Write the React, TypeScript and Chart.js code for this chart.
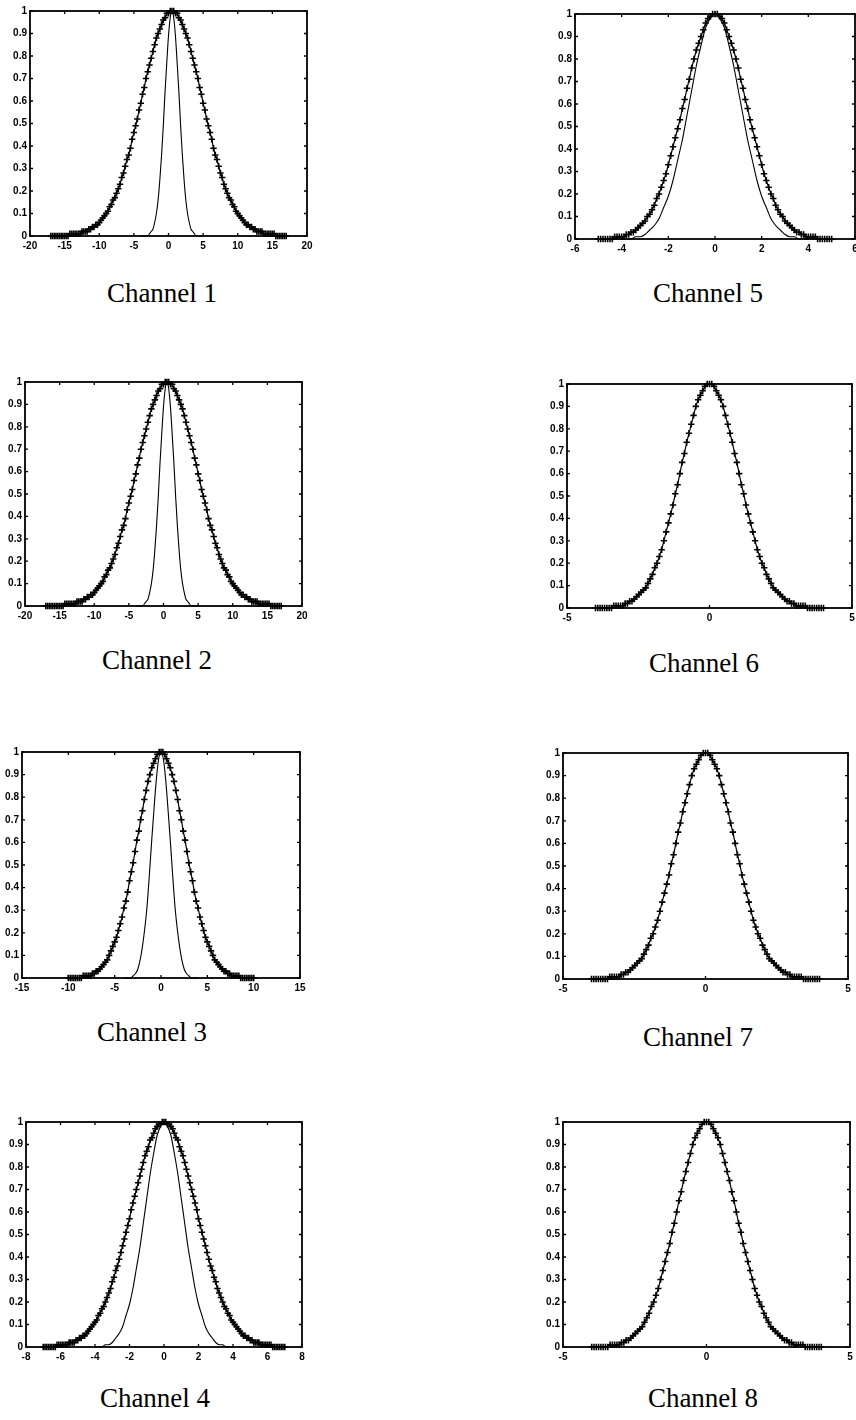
import React, { useEffect, useRef } from "react";
import { Chart, registerables } from "chart.js";

Chart.register(...registerables);

// ---------- tick labels ----------
const Y_TICKS = [0, 0.1, 0.2, 0.3, 0.4, 0.5, 0.6, 0.7, 0.8, 0.9, 1];
const Y_TICK_LABELS = ["0", "0.1", "0.2", "0.3", "0.4", "0.5", "0.6", "0.7", "0.8", "0.9", "1"];
const X_TICKS_CH12 = [-20, -15, -10, -5, 0, 5, 10, 15, 20];
const X_TICKS_CH3 = [-15, -10, -5, 0, 5, 10, 15];
const X_TICKS_CH4 = [-8, -6, -4, -2, 0, 2, 4, 6, 8];
const X_TICKS_CH5 = [-6, -4, -2, 0, 2, 4, 6];
const X_TICKS_CH678 = [-5, 0, 5];
const CHANNEL_TITLES = ["Channel 1", "Channel 2", "Channel 3", "Channel 4", "Channel 5", "Channel 6", "Channel 7", "Channel 8"];

// ---------- channels 1 & 2 ----------
const X_CH12 = [-17,-16.75,-16.5,-16.25,-16,-15.75,-15.5,-15.25,-15,-14.75,-14.5,-14.25,-14,-13.75,-13.5,-13.25,-13,-12.75,-12.5,-12.25,-12,-11.75,-11.5,-11.25,-11,-10.75,-10.5,-10.25,-10,-9.75,-9.5,-9.25,-9,-8.75,-8.5,-8.25,-8,-7.75,-7.5,-7.25,-7,-6.75,-6.5,-6.25,-6,-5.75,-5.5,-5.25,-5,-4.75,-4.5,-4.25,-4,-3.75,-3.5,-3.25,-3,-2.75,-2.5,-2.25,-2,-1.75,-1.5,-1.25,-1,-.75,-.5,-.25,0,.25,.5,.75,1,1.25,1.5,1.75,2,2.25,2.5,2.75,3,3.25,3.5,3.75,4,4.25,4.5,4.75,5,5.25,5.5,5.75,6,6.25,6.5,6.75,7,7.25,7.5,7.75,8,8.25,8.5,8.75,9,9.25,9.5,9.75,10,10.25,10.5,10.75,11,11.25,11.5,11.75,12,12.25,12.5,12.75,13,13.25,13.5,13.75,14,14.25,14.5,14.75,15,15.25,15.5,15.75,16,16.25,16.5,16.75,17];
const Y_CH12_WIDE = [0,0,0,0,0,0,0,0,0,0,0,.01,.01,.01,.01,.01,.01,.01,.02,.02,.02,.02,.03,.03,.04,.04,.05,.05,.06,.07,.08,.09,.10,.11,.13,.14,.16,.17,.19,.21,.23,.26,.28,.31,.34,.36,.39,.43,.46,.49,.52,.56,.59,.63,.66,.70,.73,.76,.79,.82,.85,.88,.90,.92,.94,.96,.97,.99,.99,1,
1,
1,.99,.99,.97,.96,.94,.92,.90,.88,.85,.82,.79,.76,.73,.70,.66,.63,.59,.56,.52,.49,.46,.43,.39,.36,.34,.31,.28,.26,.23,.21,.19,.17,.16,.14,.13,.11,.10,.09,.08,.07,.06,.05,.05,.04,.04,.03,.03,.02,.02,.02,.02,.01,.01,.01,.01,.01,.01,.01,0,0,0,0,0,0,0];
const X_CH12_NARROW = [-4,-3.75,-3.5,-3.25,-3,-2.75,-2.5,-2.25,-2,-1.75,-1.5,-1.25,-1,-.75,-.5,-.25,0,.25,.5,.75,1,1.25,1.5,1.75,2,2.25,2.5,2.75,3,3.25,3.5,3.75,4,4.25,4.5,4.75,5];
const Y_CH12_NARROW = [0,0,0,0,0,.01,.02,.03,.06,.10,.16,.25,.36,.49,.64,.77,.89,.97,1,.97,.89,.77,.64,.49,.36,.25,.16,.10,.06,.03,.02,.01,0,0,0,0,0];

// ---------- channel 3 ----------
const X_CH3 = [-10,-9.8,-9.6,-9.4,-9.2,-9,-8.8,-8.6,-8.4,-8.2,-8,-7.8,-7.6,-7.4,-7.2,-7,-6.8,-6.6,-6.4,-6.2,-6,-5.8,-5.6,-5.4,-5.2,-5,-4.8,-4.6,-4.4,-4.2,-4,-3.8,-3.6,-3.4,-3.2,-3,-2.8,-2.6,-2.4,-2.2,-2,-1.8,-1.6,-1.4,-1.2,-1,-.8,-.6,-.4,-.2,0,.2,.4,.6,.8,1,1.2,1.4,1.6,1.8,2,2.2,2.4,2.6,2.8,3,3.2,3.4,3.6,3.8,4,4.2,4.4,4.6,4.8,5,5.2,5.4,5.6,5.8,6,6.2,6.4,6.6,6.8,7,7.2,7.4,7.6,7.8,8,8.2,8.4,8.6,8.8,9,9.2,9.4,9.6,9.8,10];
const Y_CH3_WIDE = [0,0,0,0,0,0,0,0,.01,.01,.01,.01,.01,.02,.02,.03,.03,.04,.05,.06,.07,.08,.10,.12,.14,.16,.18,.21,.24,.27,.31,.34,.38,.43,.47,.51,.56,.61,.65,.70,.74,.79,.83,.87,.90,.93,.95,.97,.99,1,
1,
1,.99,.97,.95,.93,.90,.87,.83,.79,.74,.70,.65,.61,.56,.51,.47,.43,.38,.34,.31,.27,.24,.21,.18,.16,.14,.12,.10,.08,.07,.06,.05,.04,.03,.03,.02,.02,.01,.01,.01,.01,.01,0,0,0,0,0,0,0,0];
const X_CH3_NARROW = [-4,-3.75,-3.5,-3.25,-3,-2.75,-2.5,-2.25,-2,-1.75,-1.5,-1.25,-1,-.75,-.5,-.25,0,.25,.5,.75,1,1.25,1.5,1.75,2,2.25,2.5,2.75,3,3.25,3.5,3.75,4];
const Y_CH3_NARROW = [0,0,0,0,.01,.02,.04,.08,.14,.22,.32,.46,.61,.75,.88,.97,1,.97,.88,.75,.61,.46,.32,.22,.14,.08,.04,.02,.01,0,0,0,0];

// ---------- channel 4 ----------
const X_CH4 = [-7,-6.9,-6.8,-6.7,-6.6,-6.5,-6.4,-6.3,-6.2,-6.1,-6,-5.9,-5.8,-5.7,-5.6,-5.5,-5.4,-5.3,-5.2,-5.1,-5,-4.9,-4.8,-4.7,-4.6,-4.5,-4.4,-4.3,-4.2,-4.1,-4,-3.9,-3.8,-3.7,-3.6,-3.5,-3.4,-3.3,-3.2,-3.1,-3,-2.9,-2.8,-2.7,-2.6,-2.5,-2.4,-2.3,-2.2,-2.1,-2,-1.9,-1.8,-1.7,-1.6,-1.5,-1.4,-1.3,-1.2,-1.1,-1,-.9,-.8,-.7,-.6,-.5,-.4,-.3,-.2,-.1,0,.1,.2,.3,.4,.5,.6,.7,.8,.9,1,1.1,1.2,1.3,1.4,1.5,1.6,1.7,1.8,1.9,2,2.1,2.2,2.3,2.4,2.5,2.6,2.7,2.8,2.9,3,3.1,3.2,3.3,3.4,3.5,3.6,3.7,3.8,3.9,4,4.1,4.2,4.3,4.4,4.5,4.6,4.7,4.8,4.9,5,5.1,5.2,5.3,5.4,5.5,5.6,5.7,5.8,5.9,6,6.1,6.2,6.3,6.4,6.5,6.6,6.7,6.8,6.9,7];
const Y_CH4_WIDE = [0,0,0,0,0,0,0,0,.01,.01,.01,.01,.01,.01,.01,.02,.02,.02,.02,.03,.03,.04,.04,.05,.05,.06,.07,.08,.09,.10,.11,.12,.14,.15,.17,.18,.20,.22,.24,.26,.29,.31,.34,.36,.39,.42,.45,.48,.51,.54,.57,.61,.64,.67,.70,.73,.76,.79,.82,.85,.87,.89,.92,.93,.95,.97,.98,.99,.99,1,
1,
1,.99,.99,.98,.97,.95,.93,.92,.89,.87,.85,.82,.79,.76,.73,.70,.67,.64,.61,.57,.54,.51,.48,.45,.42,.39,.36,.34,.31,.29,.26,.24,.22,.20,.18,.17,.15,.14,.12,.11,.10,.09,.08,.07,.06,.05,.05,.04,.04,.03,.03,.02,.02,.02,.02,.01,.01,.01,.01,.01,.01,.01,0,0,0,0,0,0,0,0];
const X_CH45_NARROW = [-4,-3.8,-3.6,-3.4,-3.2,-3,-2.8,-2.6,-2.4,-2.2,-2,-1.8,-1.6,-1.4,-1.2,-1,-.8,-.6,-.4,-.2,0,.2,.4,.6,.8,1,1.2,1.4,1.6,1.8,2,2.2,2.4,2.6,2.8,3,3.2,3.4,3.6,3.8,4];
const Y_CH45_NARROW = [0,0,0,.01,.01,.02,.04,.06,.09,.14,.19,.26,.35,.44,.55,.66,.77,.86,.94,.98,1,.98,.94,.86,.77,.66,.55,.44,.35,.26,.19,.14,.09,.06,.04,.02,.01,.01,0,0,0];

// ---------- channel 5 ----------
const X_CH5 = [-5,-4.9,-4.8,-4.7,-4.6,-4.5,-4.4,-4.3,-4.2,-4.1,-4,-3.9,-3.8,-3.7,-3.6,-3.5,-3.4,-3.3,-3.2,-3.1,-3,-2.9,-2.8,-2.7,-2.6,-2.5,-2.4,-2.3,-2.2,-2.1,-2,-1.9,-1.8,-1.7,-1.6,-1.5,-1.4,-1.3,-1.2,-1.1,-1,-.9,-.8,-.7,-.6,-.5,-.4,-.3,-.2,-.1,0,.1,.2,.3,.4,.5,.6,.7,.8,.9,1,1.1,1.2,1.3,1.4,1.5,1.6,1.7,1.8,1.9,2,2.1,2.2,2.3,2.4,2.5,2.6,2.7,2.8,2.9,3,3.1,3.2,3.3,3.4,3.5,3.6,3.7,3.8,3.9,4,4.1,4.2,4.3,4.4,4.5,4.6,4.7,4.8,4.9,5];
const Y_CH5_WIDE = [0,0,0,0,0,0,0,.01,.01,.01,.01,.01,.02,.02,.03,.03,.04,.05,.06,.07,.08,.10,.11,.13,.15,.18,.20,.23,.26,.29,.33,.37,.41,.45,.49,.53,.58,.62,.67,.71,.76,.80,.84,.87,.90,.93,.96,.98,.99,1,
1,
1,.99,.98,.96,.93,.90,.87,.84,.80,.76,.71,.67,.62,.58,.53,.49,.45,.41,.37,.33,.29,.26,.23,.20,.18,.15,.13,.11,.10,.08,.07,.06,.05,.04,.03,.03,.02,.02,.01,.01,.01,.01,.01,0,0,0,0,0,0,0];

// ---------- channels 6, 7, 8 ----------
const X_CH678 = [-4,-3.92,-3.84,-3.76,-3.68,-3.6,-3.52,-3.44,-3.36,-3.28,-3.2,-3.12,-3.04,-2.96,-2.88,-2.8,-2.72,-2.64,-2.56,-2.48,-2.4,-2.32,-2.24,-2.16,-2.08,-2,-1.92,-1.84,-1.76,-1.68,-1.6,-1.52,-1.44,-1.36,-1.28,-1.2,-1.12,-1.04,-.96,-.88,-.8,-.72,-.64,-.56,-.48,-.4,-.32,-.24,-.16,-.08,0,.08,.16,.24,.32,.4,.48,.56,.64,.72,.8,.88,.96,1.04,1.12,1.2,1.28,1.36,1.44,1.52,1.6,1.68,1.76,1.84,1.92,2,2.08,2.16,2.24,2.32,2.4,2.48,2.56,2.64,2.72,2.8,2.88,2.96,3.04,3.12,3.2,3.28,3.36,3.44,3.52,3.6,3.68,3.76,3.84,3.92,4];
const Y_CH678_WIDE = [0,0,0,0,0,0,0,0,.01,.01,.01,.01,.01,.02,.02,.03,.03,.04,.05,.06,.07,.08,.09,.11,.13,.15,.18,.20,.23,.26,.30,.34,.38,.42,.46,.51,.55,.60,.65,.69,.74,.78,.82,.86,.90,.93,.95,.97,.99,1,
1,
1,.99,.97,.95,.93,.90,.86,.82,.78,.74,.69,.65,.60,.55,.51,.46,.42,.38,.34,.30,.26,.23,.20,.18,.15,.13,.11,.09,.08,.07,.06,.05,.04,.03,.03,.02,.02,.01,.01,.01,.01,.01,0,0,0,0,0,0,0,0];

// ---------- panel setup (which arrays go where) ----------
type Series = { x: number[]; y: number[] };
type PanelSpec = {
  xMin: number; xMax: number; xTicks: number[];
  wide: Series; narrow?: Series;
};
const PANEL_SPECS: PanelSpec[] = [
  { xMin: -20, xMax: 20, xTicks: X_TICKS_CH12, wide: { x: X_CH12, y: Y_CH12_WIDE }, narrow: { x: X_CH12_NARROW, y: Y_CH12_NARROW } },
  { xMin: -20, xMax: 20, xTicks: X_TICKS_CH12, wide: { x: X_CH12, y: Y_CH12_WIDE }, narrow: { x: X_CH12_NARROW, y: Y_CH12_NARROW } },
  { xMin: -15, xMax: 15, xTicks: X_TICKS_CH3, wide: { x: X_CH3, y: Y_CH3_WIDE }, narrow: { x: X_CH3_NARROW, y: Y_CH3_NARROW } },
  { xMin: -8, xMax: 8, xTicks: X_TICKS_CH4, wide: { x: X_CH4, y: Y_CH4_WIDE }, narrow: { x: X_CH45_NARROW, y: Y_CH45_NARROW } },
  { xMin: -6, xMax: 6, xTicks: X_TICKS_CH5, wide: { x: X_CH5, y: Y_CH5_WIDE }, narrow: { x: X_CH45_NARROW, y: Y_CH45_NARROW } },
  { xMin: -5, xMax: 5, xTicks: X_TICKS_CH678, wide: { x: X_CH678, y: Y_CH678_WIDE } },
  { xMin: -5, xMax: 5, xTicks: X_TICKS_CH678, wide: { x: X_CH678, y: Y_CH678_WIDE } },
  { xMin: -5, xMax: 5, xTicks: X_TICKS_CH678, wide: { x: X_CH678, y: Y_CH678_WIDE } },
];

// ---------- layout (plot-area boxes on the page) ----------
const LAYOUT = [
  { left: 30, right: 307, top: 11, bottom: 236, tx: 162, ty: 293 },
  { left: 25, right: 302, top: 382, bottom: 606, tx: 157, ty: 660 },
  { left: 22, right: 300, top: 752, bottom: 978, tx: 152, ty: 1032 },
  { left: 26, right: 302, top: 1122, bottom: 1347, tx: 155, ty: 1398 },
  { left: 575, right: 855, top: 14, bottom: 239, tx: 708, ty: 293 },
  { left: 567, right: 852, top: 384, bottom: 608, tx: 704, ty: 663 },
  { left: 563, right: 848, top: 753, bottom: 979, tx: 698, ty: 1037 },
  { left: 563, right: 850, top: 1122, bottom: 1347, tx: 703, ty: 1398 },
];

const YW = 40; // room for y labels
const XH = 26; // room for x labels
const PT = 10;
const PR = 12;

const boxPlugin = {
  id: "matlabBox",
  beforeDatasetsDraw(chart: any) {
    const { ctx, chartArea: a, scales } = chart;
    ctx.save();
    ctx.strokeStyle = "#000";
    ctx.lineWidth = 1.8;
    ctx.strokeRect(a.left, a.top, a.right - a.left, a.bottom - a.top);
    ctx.lineWidth = 1.3;
    const t = 3;
    ctx.beginPath();
    scales.x.ticks.forEach((tk: any) => {
      const px = scales.x.getPixelForValue(tk.value);
      ctx.moveTo(px, a.bottom); ctx.lineTo(px, a.bottom - t);
      ctx.moveTo(px, a.top); ctx.lineTo(px, a.top + t);
    });
    scales.y.ticks.forEach((tk: any) => {
      const py = scales.y.getPixelForValue(tk.value);
      ctx.moveTo(a.left, py); ctx.lineTo(a.left + t, py);
      ctx.moveTo(a.right, py); ctx.lineTo(a.right - t, py);
    });
    ctx.stroke();
    ctx.restore();
  },
};

const tickFont = { family: "'Liberation Sans', Arial, sans-serif", size: 10, weight: "bold" as const };

function Panel({ index }: { index: number }) {
  const ref = useRef<HTMLCanvasElement | null>(null);
  const spec = PANEL_SPECS[index];
  const box = LAYOUT[index];
  const plotW = box.right - box.left;
  const plotH = box.bottom - box.top;
  const cw = YW + plotW + PR;
  const ch = PT + plotH + XH;

  useEffect(() => {
    if (!ref.current) return;
    const datasets: any[] = [
      {
        data: spec.wide.x.map((x, i) => ({ x, y: spec.wide.y[i] })),
        showLine: true,
        borderWidth: 1.2,
        pointStyle: "cross",
        pointRadius: 3.2,
        pointBorderWidth: 1.6,
        borderColor: "#000",
        backgroundColor: "#000",
        clip: false,
      },
    ];
    if (spec.narrow) {
      datasets.push({
        data: spec.narrow.x.map((x, i) => ({ x, y: spec.narrow!.y[i] })),
        showLine: true,
        pointRadius: 0,
        borderColor: "#000",
        borderWidth: 1.1,
        cubicInterpolationMode: "monotone",
        clip: false,
      });
    }
    const chart = new Chart(ref.current, {
      type: "scatter",
      data: { datasets },
      options: {
        animation: false,
        responsive: false,
        devicePixelRatio: 1,
        events: [],
        layout: { padding: { top: PT, right: PR, left: 0, bottom: 0 } },
        plugins: { legend: { display: false }, tooltip: { enabled: false } },
        scales: {
          x: {
            type: "linear",
            min: spec.xMin,
            max: spec.xMax,
            afterBuildTicks: (ax: any) => { ax.ticks = spec.xTicks.map((v) => ({ value: v })); },
            afterFit: (s: any) => { s.height = XH; },
            grid: { display: false, drawTicks: false },
            border: { display: false },
            ticks: {
              padding: 4,
              color: "#000",
              font: tickFont,
              maxRotation: 0,
              autoSkip: false,
              callback: (_v: any, i: number) => String(spec.xTicks[i]),
            },
          },
          y: {
            type: "linear",
            min: 0,
            max: 1,
            afterBuildTicks: (ax: any) => { ax.ticks = Y_TICKS.map((v) => ({ value: v })); },
            afterFit: (s: any) => { s.width = YW; },
            grid: { display: false, drawTicks: false },
            border: { display: false },
            ticks: {
              padding: 3,
              color: "#000",
              font: tickFont,
              autoSkip: false,
              callback: (_v: any, i: number) => Y_TICK_LABELS[i],
            },
          },
        },
      } as any,
      plugins: [boxPlugin],
    });
    return () => chart.destroy();
  }, [index]);

  return (
    <>
      <canvas
        ref={ref}
        width={cw}
        height={ch}
        style={{ position: "absolute", left: box.left - YW, top: box.top - PT, width: cw, height: ch }}
      />
      <div
        style={{
          position: "absolute",
          left: box.tx - 110,
          top: box.ty - 16,
          width: 220,
          height: 32,
          lineHeight: "32px",
          textAlign: "center",
          fontFamily: "'Liberation Serif', 'Times New Roman', serif",
          fontSize: 27,
          color: "#000",
        }}
      >
        {CHANNEL_TITLES[index]}
      </div>
    </>
  );
}

export default function App() {
  return (
    <div
      style={{
        position: "absolute",
        left: 0,
        top: 0,
        width: 856,
        height: 1420,
        overflow: "hidden",
        background: "#fff",
      }}
    >
      {PANEL_SPECS.map((_, i) => (
        <Panel key={i} index={i} />
      ))}
    </div>
  );
}
